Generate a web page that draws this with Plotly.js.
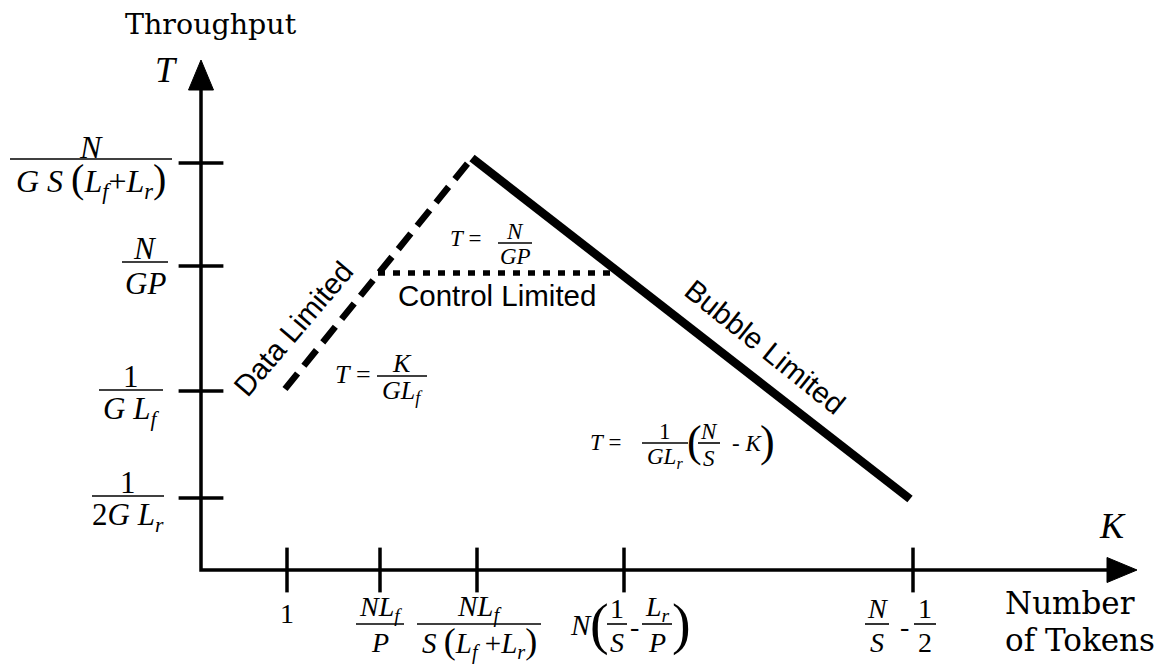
<!DOCTYPE html>
<html>
<head>
<meta charset="utf-8">
<script src="https://cdn.plot.ly/plotly-3.0.1.min.js"></script>
<style>
  html, body { margin: 0; padding: 0; background: #ffffff; }
  #plot { width: 1169px; height: 670px; }
</style>
</head>
<body>
<div id="plot"></div>
<script>
// Positions on the K (number of tokens) axis where the regimes change
const kTickVals = [0.86, 1.79, 2.76, 4.23, 7.12];
// Throughput levels marked on the T axis
const tTickVals = [0.72, 1.79, 3.04, 4.07];

// Regime segments of the throughput curve
const dataLimitedK = [0.84, 2.71];
const dataLimitedT = [1.81, 4.12];
const controlLimitedK = [1.77, 4.17];
const controlLimitedT = [2.97, 2.97];
const bubbleLimitedK = [2.71, 7.09];
const bubbleLimitedT = [4.12, 0.71];

// Where the axis arrows end
const kAxisEnd = 9.36;
const tAxisEnd = 5.10;

// ---------------------------------------------------------------------------
const PX = 0.01;              // one screen pixel in axis units (100 px per unit on both axes)
const MATH = '"Liberation Serif", "Times New Roman", serif';
const SERIF = '"DejaVu Serif", serif';
const SANS = '"Liberation Sans", Arial, sans-serif';
const INK = '#000000';

const i = s => '<i>' + s + '</i>';
const sub = s => '<sub>' + i(s) + '</sub>';
const big = (s, size) => '<span style="font-size:' + size + 'px">' + s + '</span>';

const annotations = [];
const shapes = [];

function note(x, y, text, size, extra) {
  annotations.push(Object.assign({
    x: x, y: y, xref: 'x', yref: 'y', text: text, showarrow: false,
    xanchor: 'center', yanchor: 'middle',
    font: { family: MATH, size: size, color: INK }
  }, extra || {}));
}

// Stacked fraction centred on its bar at (cx, cy)
function frac(cx, cy, num, den, halfW, size, up, down) {
  note(cx, cy + up * PX, num, size);
  note(cx, cy - down * PX, den, size);
  shapes.push({
    type: 'line', xref: 'x', yref: 'y',
    x0: cx - halfW * PX, x1: cx + halfW * PX, y0: cy, y1: cy,
    line: { color: INK, width: 1.6 }
  });
}

// ---- T axis labels -------------------------------------------------------
frac(-1.10, tTickVals[3] + 0.04, i('N'),
     i('G S ') + big('(', 40) + i('L') + sub('f') + '+' + i('L') + sub('r') + big(')', 40),
     81, 32, 12, 21);
frac(-0.56, tTickVals[2] + 0.04, i('N'), i('GP'), 23, 31, 14, 21);
frac(-0.70, tTickVals[1] + 0.01, '1', i('G L') + sub('f'), 32, 31, 14, 21);
frac(-0.73, tTickVals[0] + 0.02, '1', '2' + i('G L') + sub('r'), 36, 31, 14, 21);

// ---- K axis labels -------------------------------------------------------
const kLabelY = -0.54;
note(kTickVals[0], kLabelY + 0.11, '1', 28);
frac(kTickVals[1], kLabelY, i('NL') + sub('f'), i('P'), 24, 28, 16, 18);
frac(kTickVals[2] + 0.02, kLabelY, i('NL') + sub('f'),
     i('S ') + big('(', 36) + i('L') + sub('f') + ' +' + i('L') + sub('r') + big(')', 36),
     62, 29, 16, 18);
// N(1/S - Lr/P)
note(kTickVals[3] - 0.43, kLabelY - 0.01, i('N'), 29);
note(kTickVals[3] - 0.25, kLabelY, big('(', 56), 28);
frac(kTickVals[3] - 0.07, kLabelY, '1', i('S'), 10, 28, 16, 18);
note(kTickVals[3] + 0.10, kLabelY - 0.02, '-', 28);
frac(kTickVals[3] + 0.33, kLabelY, i('L') + sub('r'), i('P'), 15, 28, 16, 18);
note(kTickVals[3] + 0.57, kLabelY, big(')', 56), 28);
// N/S - 1/2
frac(kTickVals[4] - 0.36, kLabelY, i('N'), i('S'), 12, 28, 16, 18);
note(kTickVals[4] - 0.09, kLabelY - 0.02, '-', 28);
frac(kTickVals[4] + 0.12, kLabelY, '1', '2', 11, 28, 16, 18);

// ---- axis names ----------------------------------------------------------
note(0.10, 5.46, 'Throughput', 28.5, { font: { family: SERIF, size: 28.5, color: INK } });
note(-0.35, 5.00, i('T'), 36);
note(9.11, 0.44, i('K'), 36);
note(8.02, -0.33, 'Number', 31, { xanchor: 'left', font: { family: SERIF, size: 31, color: INK } });
note(8.02, -0.70, 'of Tokens', 31, { xanchor: 'left', font: { family: SERIF, size: 31, color: INK } });

// ---- regime labels and formulas -----------------------------------------
note(0.92, 2.42, 'Data Limited', 29.5, { textangle: -49.5, font: { family: SANS, size: 29.5, color: INK } });
note(2.96, 2.75, 'Control Limited', 29.5, { font: { family: SANS, size: 29.5, color: INK } });
note(5.64, 2.24, 'Bubble Limited', 29.5, { textangle: 38.7, font: { family: SANS, size: 29.5, color: INK } });

note(2.65, 3.32, i('T') + ' =', 23);
frac(3.14, 3.27, i('N'), i('GP'), 17, 23, 12, 13);

note(1.52, 1.96, i('T') + ' =', 26);
frac(2.01, 1.94, i('K'), i('GL') + sub('f'), 25, 26, 13, 16);

note(4.07, 1.28, i('T') + ' = ', 23);
frac(4.64, 1.27, '1', i('GL') + sub('r'), 23, 23, 12, 15);
note(4.93, 1.29, big('(', 44), 23);
frac(5.08, 1.27, i('N'), i('S'), 11, 23, 12, 15);
note(5.46, 1.27, '- ' + i('K'), 23);
note(5.66, 1.29, big(')', 44), 23);

// ---- arrowheads on the axes ---------------------------------------------
const headLen = 0.30, headHalf = 0.125;
shapes.push({
  type: 'path', xref: 'x', yref: 'y', fillcolor: INK, line: { color: INK, width: 1 },
  path: 'M 0 ' + tAxisEnd + ' L ' + (-headHalf) + ' ' + (tAxisEnd - headLen) +
        ' L ' + headHalf + ' ' + (tAxisEnd - headLen) + ' Z'
});
shapes.push({
  type: 'path', xref: 'x', yref: 'y', fillcolor: INK, line: { color: INK, width: 1 },
  path: 'M ' + kAxisEnd + ' 0 L ' + (kAxisEnd - headLen) + ' ' + headHalf +
        ' L ' + (kAxisEnd - headLen) + ' ' + (-headHalf) + ' Z'
});

const traces = [
  { // axes
    x: [0, 0, kAxisEnd - headLen], y: [tAxisEnd - headLen, 0, 0],
    mode: 'lines', line: { color: INK, width: 3.5 }, hoverinfo: 'skip'
  },
  { // K ticks
    x: kTickVals, y: kTickVals.map(() => 0), mode: 'markers', hoverinfo: 'skip',
    marker: { symbol: 'line-ns', size: 32, line: { color: INK, width: 3.5 } }
  },
  { // T ticks
    x: tTickVals.map(() => 0), y: tTickVals, mode: 'markers', hoverinfo: 'skip',
    marker: { symbol: 'line-ew', size: 32, line: { color: INK, width: 3.5 } }
  },
  {
    name: 'Data Limited', x: dataLimitedK, y: dataLimitedT, mode: 'lines',
    line: { color: INK, width: 6.5, dash: '20px,10px' }
  },
  {
    name: 'Control Limited', x: controlLimitedK, y: controlLimitedT, mode: 'lines',
    line: { color: INK, width: 5.5, dash: '7px,8px' }
  },
  {
    name: 'Bubble Limited', x: bubbleLimitedK, y: bubbleLimitedT, mode: 'lines',
    line: { color: INK, width: 8.5 }
  }
];

const layout = {
  width: 1169, height: 670,
  margin: { l: 0, r: 0, t: 0, b: 0, pad: 0 },
  paper_bgcolor: '#ffffff', plot_bgcolor: '#ffffff',
  showlegend: false,
  xaxis: { range: [-2.01, 9.68], visible: false, fixedrange: true },
  yaxis: { range: [-1.00, 5.70], visible: false, fixedrange: true },
  annotations: annotations,
  shapes: shapes
};

Plotly.newPlot('plot', traces, layout, { staticPlot: true, displayModeBar: false });
</script>
</body>
</html>
